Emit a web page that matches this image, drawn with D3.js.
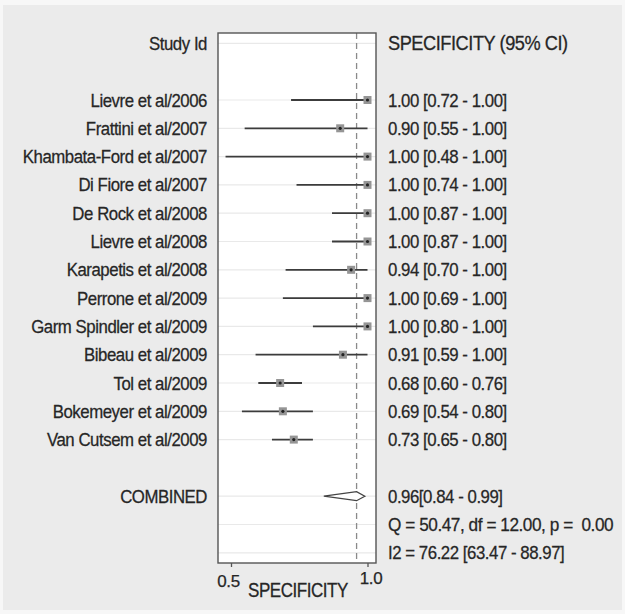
<!DOCTYPE html>
<html><head><meta charset="utf-8">
<script src="https://cdn.jsdelivr.net/npm/d3@7"></script>
<style>html,body{margin:0;padding:0;background:#fff;}svg{display:block;}</style>
</head><body>
<script>
const studies = ["Lievre et al/2006","Frattini et al/2007","Khambata-Ford et al/2007","Di Fiore et al/2007","De Rock et al/2008","Lievre et al/2008","Karapetis et al/2008","Perrone et al/2009","Garm Spindler et al/2009","Bibeau et al/2009","Tol et al/2009","Bokemeyer et al/2009","Van Cutsem et al/2009"];
const est = [1.00,0.90,1.00,1.00,1.00,1.00,0.94,1.00,1.00,0.91,0.68,0.69,0.73];
const lo  = [0.72,0.55,0.48,0.74,0.87,0.87,0.70,0.69,0.80,0.59,0.60,0.54,0.65];
const hi  = [1.00,1.00,1.00,1.00,1.00,1.00,1.00,1.00,1.00,1.00,0.76,0.80,0.80];
const combined = {est:0.96, lo:0.84, hi:0.99};
const hetero = {Q:50.47, df:12.00, p:0.00, I2:76.22, I2lo:63.47, I2hi:88.97};
const xTicks = [0.5, 1.0];
const headerLeft = "Study Id", headerRight = "SPECIFICITY (95% CI)", xTitle = "SPECIFICITY", combinedLabel = "COMBINED";

const W = 625, H = 614;
const svg = d3.select("body").append("svg").attr("width", W).attr("height", H);
const FONT = "'Liberation Sans', Arial, sans-serif";
const TXT = "#262626";

svg.append("rect").attr("x",0).attr("y",0).attr("width",W).attr("height",H).attr("fill","#f7f7f7");
svg.append("rect").attr("x",3).attr("y",5).attr("width",W-6).attr("height",H-9).attr("fill","#ebebeb");

const x = d3.scaleLinear().domain([0.5, 1.0]).range([231, 367.5]);
const row = d3.scaleLinear().domain([0, 18]).range([43.4, 552.8]);
const plot = {l:218, r:376, t:33, b:563};

svg.append("rect").attr("x",plot.l).attr("y",plot.t).attr("width",plot.r-plot.l).attr("height",plot.b-plot.t)
  .attr("fill","#fff");

// gridlines
const gridRows = [0].concat(d3.range(2, 15), [16, 17, 18]);
svg.append("g").selectAll("line").data(gridRows).join("line")
  .attr("x1", plot.l).attr("x2", plot.r)
  .attr("y1", d => row(d)).attr("y2", d => row(d))
  .attr("stroke", "#e9e9e9").attr("stroke-width", 1.2);

// dashed reference line at combined estimate
svg.append("line").attr("x1", x(combined.est)).attr("x2", x(combined.est))
  .attr("y1", plot.t).attr("y2", plot.b)
  .attr("stroke", "#8a8a8a").attr("stroke-width", 1.3).attr("stroke-dasharray", "6,4");

// frame
svg.append("rect").attr("x",plot.l).attr("y",plot.t).attr("width",plot.r-plot.l).attr("height",plot.b-plot.t)
  .attr("fill","none").attr("stroke","#555").attr("stroke-width",1.4);

const idx = d3.range(studies.length);
// CI lines
svg.append("g").selectAll("line").data(idx).join("line")
  .attr("x1", i => x(lo[i])).attr("x2", i => x(hi[i]))
  .attr("y1", i => row(i+2)).attr("y2", i => row(i+2))
  .attr("stroke", "#3c3c3c").attr("stroke-width", 1.8);
// markers
svg.append("g").selectAll("rect").data(idx).join("rect")
  .attr("x", i => x(est[i]) - 4).attr("y", i => row(i+2) - 4)
  .attr("width", 8).attr("height", 8).attr("fill", "#959595");
svg.append("g").selectAll("circle").data(idx).join("circle")
  .attr("cx", i => x(est[i])).attr("cy", i => row(i+2)).attr("r", 1.6).attr("fill", "#222");

// combined diamond
const cy = row(16);
svg.append("path")
  .attr("d", `M${x(combined.lo)},${cy} L${x(combined.est)},${cy-4.5} L${x(combined.hi)},${cy} L${x(combined.est)},${cy+4.5} Z`)
  .attr("fill", "#fff").attr("stroke", "#444").attr("stroke-width", 1.3);

// axis
const ax = svg.append("g").attr("transform", `translate(0,${plot.b})`)
  .call(d3.axisBottom(x).tickValues(xTicks).tickFormat(d3.format(".1f")).tickSize(4));
ax.select(".domain").remove();
ax.selectAll("line").attr("stroke", "#555").attr("stroke-width", 1.3);
ax.selectAll("text").attr("font-family", FONT).attr("font-size", 17).attr("fill", TXT)
  .attr("stroke", TXT).attr("stroke-width", 0.25).attr("letter-spacing", "-0.4px")
  .attr("dy", (d, i) => i === 0 ? "1.0em" : "0.85em").attr("dx", (d, i) => i === 0 ? -3 : 3);

function txt(s, xp, yp, anchor, size, sy) {
  svg.append("text")
    .attr("transform", `translate(${xp},${yp}) scale(1,${sy || 1.1})`)
    .attr("text-anchor", anchor)
    .attr("font-family", FONT).attr("font-size", size || 16.8).attr("fill", TXT)
    .attr("stroke", TXT).attr("stroke-width", 0.25)
    .attr("letter-spacing", "-0.45px").text(s);
}
const f2 = d3.format(".2f");
const BL = 6.5;
txt(headerLeft, 207, row(0) + BL, "end");
txt(headerRight, 388, row(0) + BL, "start", 18.2);
studies.forEach((s, i) => {
  txt(s, 207, row(i+2) + BL, "end");
  txt(`${f2(est[i])} [${f2(lo[i])} - ${f2(hi[i])}]`, 388, row(i+2) + BL, "start");
});
txt(combinedLabel, 207, row(16) + BL, "end");
txt(`${f2(combined.est)}[${f2(combined.lo)} - ${f2(combined.hi)}]`, 388, row(16) + BL, "start");
txt(`Q = ${f2(hetero.Q)}, df = ${f2(hetero.df)}, p =\u00a0 ${f2(hetero.p)}`, 388, row(17) + BL, "start", 17.2);
txt(`I2 = ${f2(hetero.I2)} [${f2(hetero.I2lo)} - ${f2(hetero.I2hi)}]`, 388, row(18) + BL, "start");
txt(xTitle, 298, 597, "middle", 17, 1.15);
</script>
</body></html>
